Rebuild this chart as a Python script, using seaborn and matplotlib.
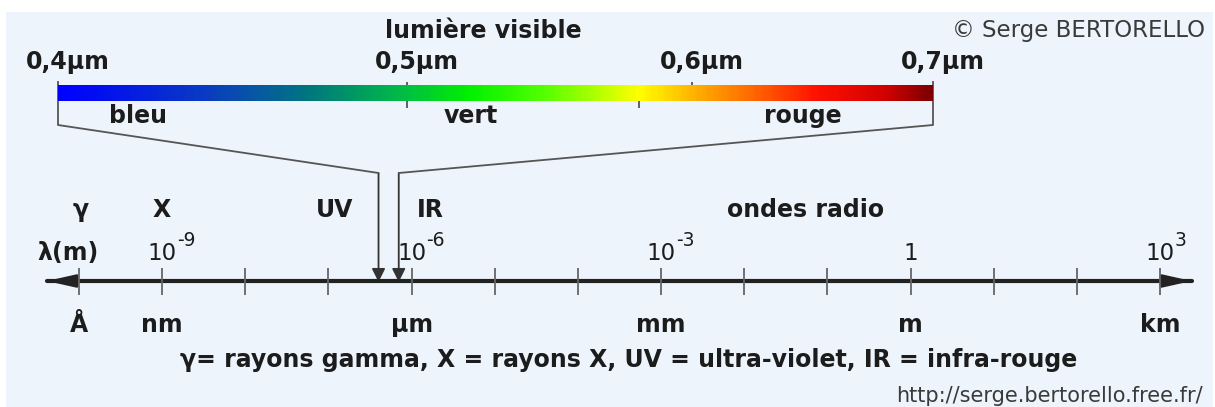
import numpy as np
import matplotlib
matplotlib.use("Agg")
import matplotlib.pyplot as plt
from matplotlib.colors import LinearSegmentedColormap
from matplotlib.patches import ConnectionPatch, Rectangle
import seaborn as sns

# --- visible light (micrometres) ---
vis_ticks = [0.4, 0.5, 0.6, 0.7]
vis_tick_labels = ["0,4µm", "0,5µm", "0,6µm", "0,7µm"]
vis_stop_um = [0.40, 0.44, 0.47, 0.50, 0.52, 0.545, 0.58, 0.60, 0.625, 0.65, 0.68, 0.70]
vis_stop_colors = ["#0000ff", "#0a3cc0", "#00787e", "#00c040", "#00f000", "#50ff00",
                   "#ffff00", "#ffb400", "#ff6400", "#ff1000", "#d00000", "#7a0000"]
vis_extra_mark = [0.58]
colour_names = ["bleu", "vert", "rouge"]
colour_name_um = [0.421, 0.521, 0.644]
vis_title_um = 0.525

# --- electromagnetic spectrum (metres) ---
decade_exp = np.arange(-10, 4)
unit_labels = ["Å", "nm", "µm", "mm", "m", "km"]
unit_m = [1e-10, 1e-9, 1e-6, 1e-3, 1.0, 1e3]
power_m = [1e-9, 1e-6, 1e-3, 1.0, 1e3]
power_base = ["10", "10", "10", "1", "10"]
power_sup = ["-9", "-6", "-3", "", "3"]
band_labels = ["γ", "X", "UV", "IR", "ondes radio"]
band_m = [1.05e-10, 1.0e-9, 1.2e-7, 1.7e-6, 5.4e-2]
axis_span_m = [4.1e-11, 2.4e3]
vis_edges_um = [0.4, 0.7]
vis_edges_m = [4e-7, 7e-7]

caption = "γ= rayons gamma, X = rayons X, UV = ultra-violet, IR = infra-rouge"

W, H = 1215, 407
sns.set_theme(style="white")
plt.rcParams["font.family"] = ["DejaVu Sans"]
TXT = "#1c1c1c"
FS = 17

fig = plt.figure(figsize=(W / 100, H / 100), dpi=100)
fig.patch.set_facecolor("white")
fig.add_artist(Rectangle((6 / W, 0), (1213 - 6) / W, (H - 12) / H, transform=fig.transFigure,
                         facecolor="#edf4fc", edgecolor="none", zorder=0))

ax_vis = fig.add_axes([0, 0, 1, 1])
ax_em = fig.add_axes([0, 0, 1, 1])
for ax in (ax_vis, ax_em):
    ax.set_xscale("log")
    ax.set_ylim(H, 0)
    ax.set_facecolor("none")
    ax.axis("off")

# pixel mapping of both log scales
k_vis = (933 - 58) / np.log10(0.7 / 0.4)
ax_vis.set_xlim(0.4 * 10 ** (-58 / k_vis), 0.4 * 10 ** ((W - 58) / k_vis))
k_em = (1160 - 79) / 13
ax_em.set_xlim(10 ** (-10 - 79 / k_em), 10 ** (-10 + (W - 79) / k_em))

# colour bar of visible light
stop_pos = np.clip(np.round((np.array(vis_stop_um) - 0.4) / 0.3, 6), 0, 1)
cmap = LinearSegmentedColormap.from_list("vis", list(zip(stop_pos, vis_stop_colors)))
edges = np.geomspace(0.4, 0.7, 400)
mids = (edges[:-1] + edges[1:]) / 2
ax_vis.pcolormesh(edges, [85, 101], mids[None, :], cmap=cmap, vmin=0.4, vmax=0.7,
                  shading="flat", zorder=3)

ax_vis.vlines(vis_edges_um, 81, 125, color="#555555", lw=1.3, zorder=2)
ax_vis.vlines(vis_ticks[1], 82, 108, color="#555555", lw=1.3, zorder=2)
ax_vis.vlines(vis_ticks[2], 82, 90, color="#555555", lw=1.3, zorder=2)
ax_vis.vlines(vis_extra_mark, 100, 108, color="#555555", lw=1.3, zorder=2)

ax_vis.text(vis_title_um, 31, "lumière visible", ha="center", va="center",
            fontsize=FS, fontweight="bold", color=TXT)
for t, lbl in zip(vis_ticks, vis_tick_labels):
    ax_vis.annotate(lbl, (t, 62), xytext=(10, 0), textcoords="offset pixels",
                    ha="center", va="center", fontsize=FS, fontweight="bold", color=TXT)
for u, name in zip(colour_name_um, colour_names):
    ax_vis.text(u, 116, name, ha="center", va="center", fontsize=FS,
                fontweight="bold", color=TXT)

ax_vis.text(1205 / W, 1 - 30 / H, "© Serge BERTORELLO", transform=fig.transFigure,
            ha="right", va="center", fontsize=16.5, color="#3a3a3a")

# brackets from the visible bar down to the main axis
for um, m in zip(vis_edges_um, vis_edges_m):
    fig.add_artist(ConnectionPatch(xyA=(um, 125), coordsA=ax_vis.transData,
                                   xyB=(m, 173), coordsB=ax_em.transData,
                                   color="#555555", lw=1.3))
    ax_em.annotate("", xy=(m, 282), xytext=(m, 173),
                   arrowprops=dict(arrowstyle="-|>,head_length=0.4,head_width=0.2",
                                   color="#333333", lw=1.3, mutation_scale=20,
                                   shrinkA=0, shrinkB=0))

# main wavelength axis
sns.lineplot(x=axis_span_m, y=[281, 281], ax=ax_em, color="#222222", lw=3,
             estimator=None, legend=False)
ax_em.annotate("", xy=(axis_span_m[1], 281), xytext=(axis_span_m[0], 281),
               arrowprops=dict(arrowstyle="<|-|>,head_length=0.8,head_width=0.18",
                               color="#222222", lw=2.5, mutation_scale=20,
                               shrinkA=0, shrinkB=0))
ax_em.vlines(10.0 ** decade_exp, 268, 295, color="#666666", lw=1.3, zorder=4)

for m, lbl in zip(band_m, band_labels):
    ax_em.text(m, 210, lbl, ha="center", va="center", fontsize=FS,
               fontweight="bold", color=TXT)
ax_em.annotate("λ(m)", (1e-10, 253), xytext=(-11, 0), textcoords="offset pixels",
               ha="center", va="center", fontsize=FS, fontweight="bold", color=TXT)
for m, base, sup in zip(power_m, power_base, power_sup):
    ax_em.text(m, 253, base, ha="center", va="center", fontsize=16.5, color=TXT)
    if sup:
        ax_em.annotate(sup, (m, 240), xytext=(15, 0), textcoords="offset pixels",
                       ha="left", va="center", fontsize=13.5, color=TXT)

for m, lbl in zip(unit_m, unit_labels):
    ax_em.text(m, 325, lbl, ha="center", va="center", fontsize=FS,
               fontweight="bold", color=TXT)

ax_em.text(629 / W, 1 - 360 / H, caption, transform=fig.transFigure, ha="center",
           va="center", fontsize=FS, fontweight="bold", color=TXT)
ax_em.text(1203 / W, 1 - 396 / H, "http://serge.bertorello.free.fr/",
           transform=fig.transFigure, ha="right", va="center", fontsize=15,
           color="#3a3a3a")

fig.savefig("out.png", dpi=100)
